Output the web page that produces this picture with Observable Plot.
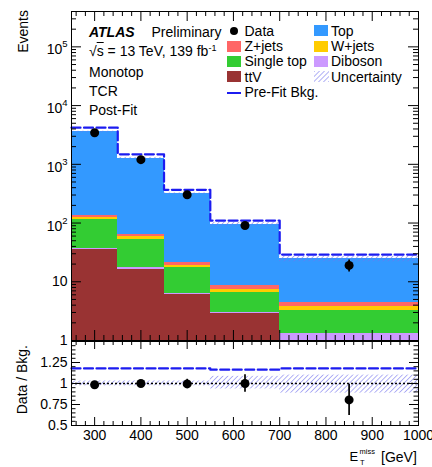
<!DOCTYPE html>
<html><head><meta charset="utf-8">
<script src="https://cdn.jsdelivr.net/npm/d3@7"></script>
<script src="https://cdn.jsdelivr.net/npm/@observablehq/plot@0.6"></script>
<style>
html,body{margin:0;padding:0;background:#fff;}
#wrap{position:relative;width:432px;height:467px;overflow:hidden;font-family:"Liberation Sans",Arial,sans-serif;font-size:14px;color:#000;}
#wrap svg.plot{position:absolute;left:0;}
.t{position:absolute;line-height:16px;white-space:nowrap;}
.sw{position:absolute;width:14px;height:11px;}
.rot{position:absolute;width:200px;text-align:right;line-height:16px;transform-origin:0 0;transform:rotate(-90deg);white-space:nowrap;}
.up{position:relative;top:-5px;font-size:9px;}
</style></head><body>
<svg width="0" height="0" style="position:absolute">
  <defs>
    <pattern id="hatch" width="3.5" height="3.5" patternUnits="userSpaceOnUse" patternTransform="rotate(45)">
      <line x1="0" y1="0" x2="0" y2="3.5" stroke="#7373ee" stroke-width="1.1"/>
    </pattern>
  </defs>
</svg>
<div id="wrap"></div>
<script>
// ---- data ----
const binLo = [250, 350, 450, 550, 700];
const binHi = [350, 450, 550, 700, 1000];
const binCenter = [300, 400, 500, 625, 850];

const processNames = ["ttV", "Diboson", "Single top", "W+jets", "Z+jets", "Top"];
const processColors = ["#993333", "#cc99ff", "#33cc33", "#ffcc00", "#ff6666", "#3399ff"];
const ttV = [35, 16.4, 6.0, 2.9, 0.9];
const diboson = [2.4, 1.3, 0.4, 0.13, 0.43];
const singleTop = [79, 34, 10.9, 3.5, 1.91];
const wjets = [8, 6.5, 1.7, 0.9, 0.6];
const zjets = [9, 4.5, 2.0, 1.15, 0.66];
const topBkg = [3425, 1213, 295, 86, 20.2];

const dataVals = [3450, 1200, 303, 91, 19];
const dataErr = [59, 35, 17, 9.5, 4.4];
const prefitBkg = [4200, 1480, 368, 110, 29];
const uncLo = [0.972, 0.972, 0.972, 0.935, 0.885];
const uncHi = [1.03, 1.03, 1.03, 1.085, 1.1];

const ratioData = [0.985, 1.0, 0.995, 1.0, 0.805];
const ratioErr = [0.017, 0.03, 0.055, 0.105, 0.185];
const ratioPrefit = [1.18, 1.18, 1.18, 1.165, 1.18];

const xTickValues = [300, 400, 500, 600, 700, 800, 900, 1000];
const xTickLabels = ["300", "400", "500", "600", "700", "800", "900", "1000"];
const yMainTicks = [1, 10, 100, 1000, 10000, 100000];
const yMainLabels = ["1", "10", "10^2", "10^3", "10^4", "10^5"];
const yRatioTicks = [0.5, 0.75, 1, 1.25];
const yRatioLabels = ["0.5", "0.75", "1", "1.25"];

// ---- derived tables ----
const layers = [ttV, diboson, singleTop, wjets, zjets, topBkg];
const stackRows = [];
const totals = [];
binLo.forEach((lo, i) => {
  let cum = 0;
  layers.forEach((arr, j) => {
    const y1 = cum === 0 ? 1e-3 : cum;
    cum += arr[i];
    stackRows.push({x1: lo, x2: binHi[i], y1, y2: cum, proc: processNames[j]});
  });
  totals.push(cum);
});
const bandMain = binLo.map((lo, i) => ({x1: lo, x2: binHi[i], y1: totals[i] * uncLo[i], y2: totals[i] * uncHi[i]}));
const bandRatio = binLo.map((lo, i) => ({x1: lo, x2: binHi[i], y1: uncLo[i], y2: uncHi[i]}));
const stepOf = arr => binLo.map((x, i) => ({x, y: arr[i]})).concat([{x: binHi[binHi.length - 1], y: arr[arr.length - 1]}]);
const pts = binCenter.map((x, i) => ({x, y: dataVals[i], lo: dataVals[i] - dataErr[i], hi: dataVals[i] + dataErr[i]}));
const rpts = binCenter.map((x, i) => ({x, y: ratioData[i], lo: ratioData[i] - ratioErr[i], hi: ratioData[i] + ratioErr[i]}));

// axis structure (tick positions)
const xMinor = d3.range(260, 1000, 20).filter(v => v % 100 !== 0);
const yMinorLog = [];
for (let k = 0; k <= 5; k++) for (let m = 2; m <= 9; m++) if (m * 10 ** k <= 4e5) yMinorLog.push(m * 10 ** k);
const yRatioMajor = [0.5, 0.75, 1, 1.25, 1.5];
const yRatioMinor = d3.range(0.55, 1.5, 0.05).filter(v => Math.abs(v * 4 - Math.round(v * 4)) > 1e-6);

const W = 432, ML = 71, MR = 14;
const FW = W - ML - MR;
const style = {fontFamily: "Liberation Sans, Arial, sans-serif", fontSize: "14px", background: "transparent", overflow: "visible", color: "#000"};

function frameTicks(FH, xMaj, xMin, yMaj, yMin, xl, yl) {
  return [
    Plot.tickX(xMaj, {x: d => d, insetTop: FH - xl[0], stroke: "#000"}),
    Plot.tickX(xMaj, {x: d => d, insetBottom: FH - xl[0], stroke: "#000"}),
    Plot.tickX(xMin, {x: d => d, insetTop: FH - xl[1], stroke: "#000"}),
    Plot.tickX(xMin, {x: d => d, insetBottom: FH - xl[1], stroke: "#000"}),
    Plot.tickY(yMaj, {y: d => d, insetRight: FW - yl[0], stroke: "#000"}),
    Plot.tickY(yMaj, {y: d => d, insetLeft: FW - yl[0], stroke: "#000"}),
    Plot.tickY(yMin, {y: d => d, insetRight: FW - yl[1], stroke: "#000"}),
    Plot.tickY(yMin, {y: d => d, insetLeft: FW - yl[1], stroke: "#000"})
  ];
}

// ---- main panel ----
const MH = 341, MT = 11, MB = 1;
const mainFH = MH - MT - MB;
const main = Plot.plot({
  width: W, height: MH, marginLeft: ML, marginRight: MR, marginTop: MT, marginBottom: MB,
  style,
  x: {domain: [250, 1000], axis: null},
  y: {type: "log", domain: [1, 4e5], axis: null},
  color: {domain: processNames, range: processColors},
  marks: [
    Plot.rect(stackRows, {x1: "x1", x2: "x2", y1: "y1", y2: "y2", fill: "proc", inset: 0, clip: true, shapeRendering: "crispEdges"}),
    Plot.rect(bandMain, {x1: "x1", x2: "x2", y1: "y1", y2: "y2", fill: "url(#hatch)", inset: 0, clip: true}),
    Plot.line(stepOf(prefitBkg), {x: "x", y: "y", curve: "step-after", stroke: "#1c1cf0", strokeWidth: 2.2, strokeDasharray: "9,3.5"}),
    Plot.ruleX(pts, {x: "x", y1: "lo", y2: "hi", stroke: "#000", strokeWidth: 1.7}),
    Plot.dot(pts, {x: "x", y: "y", r: 4.5, fill: "#000"}),
    ...frameTicks(mainFH, xTickValues, xMinor, yMainTicks, yMinorLog, [10, 5], [10, 5]),
    Plot.axisY(yMainTicks, {tickSize: 0, tickPadding: 4, label: null, tickFormat: d => yMainLabels[yMainTicks.indexOf(d)]}),
    Plot.frame({stroke: "#000", strokeWidth: 1})
  ]
});
main.classList.add("plot");
main.style.top = "0px";
const ns = "http://www.w3.org/2000/svg";
main.querySelectorAll("text").forEach(t => {
  const m = t.textContent.match(/^10\^(\d)$/);
  if (m) {
    t.textContent = "";
    const a = document.createElementNS(ns, "tspan");
    a.textContent = "10"; a.setAttribute("dy", "3");
    const b = document.createElementNS(ns, "tspan");
    b.textContent = m[1]; b.setAttribute("dy", "-7"); b.setAttribute("font-size", "9.5");
    t.append(a, b);
  }
});

// ---- ratio panel ----
const RH = 126, RT = 0, RB = 42;
const ratioFH = RH - RT - RB;
const ratio = Plot.plot({
  width: W, height: RH, marginLeft: ML, marginRight: MR, marginTop: RT, marginBottom: RB,
  style,
  x: {domain: [250, 1000]},
  y: {domain: [0.5, 1.5]},
  marks: [
    Plot.rect(bandRatio, {x1: "x1", x2: "x2", y1: "y1", y2: "y2", fill: "url(#hatch)", inset: 0, clip: true}),
    Plot.ruleY([1], {stroke: "#000", strokeWidth: 1.4, strokeDasharray: "2,2"}),
    Plot.line(stepOf(ratioPrefit), {x: "x", y: "y", curve: "step-after", stroke: "#1c1cf0", strokeWidth: 2.2, strokeDasharray: "9,3.5"}),
    Plot.ruleX(rpts, {x: "x", y1: "lo", y2: "hi", stroke: "#000", strokeWidth: 1.7}),
    Plot.dot(rpts, {x: "x", y: "y", r: 4.5, fill: "#000"}),
    ...frameTicks(ratioFH, xTickValues, xMinor, yRatioMajor, yRatioMinor, [8, 4], [9, 4.5]),
    Plot.axisY(yRatioTicks, {tickSize: 0, tickPadding: 4, label: null, tickFormat: d => yRatioLabels[yRatioTicks.indexOf(d)]}),
    Plot.axisX(xTickValues, {tickSize: 0, tickPadding: 5, label: null, tickFormat: d => xTickLabels[xTickValues.indexOf(d)]}),
    Plot.frame({stroke: "#000", strokeWidth: 1})
  ]
});
ratio.classList.add("plot");
ratio.style.top = MH + "px";

const wrap = document.getElementById("wrap");
wrap.append(main, ratio);

// ---- text overlays ----
function addText(html, x, cy, extra = "") {
  const d = document.createElement("div");
  d.className = "t";
  d.style.left = x + "px";
  d.style.top = (cy - 8) + "px";
  d.style.cssText += extra;
  d.innerHTML = html;
  wrap.append(d);
  return d;
}
addText("<b><i>ATLAS</i></b>", 89, 31.5);
addText("Preliminary", 151.5, 31.5);
addText('√<span style="text-decoration:overline">s</span> = 13 TeV, 139 fb<span class="up">-1</span>', 89, 50.5);
addText("Monotop", 89, 71.5);
addText("TCR", 89, 90.8);
addText("Post-Fit", 89, 110);

// legend
const legLeft = [
  {name: "Data", kind: "dot"},
  {name: "Z+jets", kind: "box", color: processColors[4]},
  {name: "Single top", kind: "box", color: processColors[2]},
  {name: "ttV", kind: "box", color: processColors[0]},
  {name: "Pre-Fit Bkg.", kind: "line"}
];
const legRight = [
  {name: "Top", kind: "box", color: processColors[5]},
  {name: "W+jets", kind: "box", color: processColors[3]},
  {name: "Diboson", kind: "box", color: processColors[1]},
  {name: "Uncertainty", kind: "hatch"}
];
const rowY = [30.5, 46, 61.3, 76.8, 92.2];
function legendCol(items, swX, txX) {
  items.forEach((it, i) => {
    const cy = rowY[i];
    if (it.kind === "box") {
      const s = document.createElement("div");
      s.className = "sw";
      s.style.cssText += `left:${swX}px;top:${cy - 5.5}px;background:${it.color};`;
      wrap.append(s);
    } else if (it.kind === "dot") {
      const s = document.createElement("div");
      s.style.cssText = `position:absolute;left:${swX + 3}px;top:${cy - 4}px;width:8px;height:8px;border-radius:50%;background:#000;`;
      wrap.append(s);
    } else if (it.kind === "line") {
      const s = document.createElement("div");
      s.style.cssText = `position:absolute;left:${swX}px;top:${cy}px;width:14px;height:2px;background:#1c1cf0;`;
      wrap.append(s);
    } else if (it.kind === "hatch") {
      const s = document.createElementNS(ns, "svg");
      s.setAttribute("width", 15); s.setAttribute("height", 11);
      s.style.cssText = `position:absolute;left:${swX}px;top:${cy - 5.5}px;`;
      const r = document.createElementNS(ns, "rect");
      r.setAttribute("width", 15); r.setAttribute("height", 11); r.setAttribute("fill", "url(#hatch)");
      s.append(r);
      wrap.append(s);
    }
    addText(it.name, txX, cy);
  });
}
legendCol(legLeft, 227, 244.5);
legendCol(legRight, 314, 331);

// axis titles
const ev = document.createElement("div");
ev.className = "rot";
ev.style.left = "15px"; ev.style.top = (10 + 200) + "px";
ev.textContent = "Events";
wrap.append(ev);
const rb = document.createElement("div");
rb.className = "rot";
rb.style.left = "14px"; rb.style.top = (345 + 200) + "px";
rb.textContent = "Data / Bkg.";
wrap.append(rb);

// x title: E_T^miss [GeV]
addText("E", 349.5, 457, "font-size:13px;");
addText("miss", 359.5, 451.5, "font-size:7.5px;");
addText("T", 360, 462.5, "font-size:7.5px;");
addText("[GeV]", 381, 457);
</script>
</body></html>
